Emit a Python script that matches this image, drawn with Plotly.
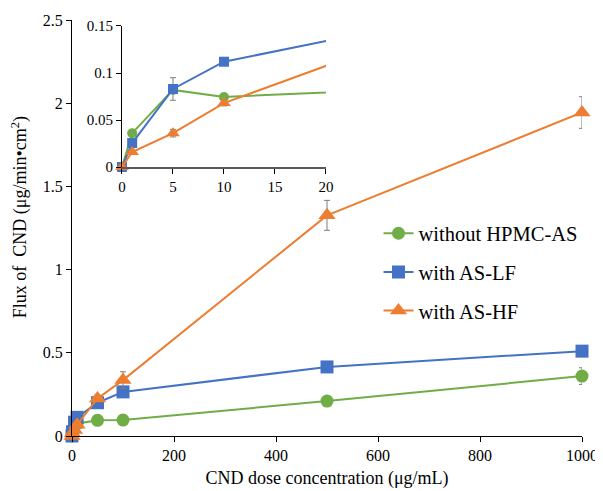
import plotly.graph_objects as go

dose = [0, 1, 5, 10, 50, 100, 500, 1000]

names = ["without HPMC-AS", "with AS-LF", "with AS-HF"]
flux_none = [0, 0.036, 0.082, 0.0745, 0.094, 0.096, 0.21, 0.36]
flux_lf = [0, 0.0255, 0.083, 0.112, 0.20, 0.265, 0.415, 0.51]
flux_hf = [0, 0.016, 0.036, 0.068, 0.226, 0.336, 1.326, 1.944]

err_none = [0, 0.002, 0.003, 0.003, 0.005, 0.005, 0.01, 0.05]
err_lf = [0, 0.002, 0.012, 0.003, 0.01, 0.01, 0.01, 0.01]
err_hf = [0, 0.002, 0.004, 0.003, 0.02, 0.05, 0.09, 0.095]

colors = ["#70AD47", "#4472C4", "#ED7D31"]
symbols = ["circle", "square", "triangle-up"]
main_sizes = [13, 13, 15]
inset_sizes = [10, 10, 12]

series = [flux_none, flux_lf, flux_hf]
errors = [err_none, err_lf, err_hf]

FONT = "'Liberation Serif', 'Times New Roman', Times, serif"
inset_max = 20

fig = go.Figure()

for i in range(3):
    fig.add_trace(go.Scatter(
        x=dose, y=series[i], name=names[i], mode="lines+markers",
        line=dict(color=colors[i], width=2),
        marker=dict(symbol=symbols[i], size=main_sizes[i], color=colors[i]),
        error_y=dict(type="data", array=errors[i], color="#7F7F7F", thickness=1, width=3),
        cliponaxis=False, legendgroup=str(i),
        xaxis="x", yaxis="y",
    ))

for i in range(3):
    fig.add_trace(go.Scatter(
        x=dose, y=series[i], mode="lines", showlegend=False,
        line=dict(color=colors[i], width=2),
        xaxis="x2", yaxis="y2", hoverinfo="skip",
    ))
    xs = [d for d in dose if d <= inset_max]
    ys = [v for d, v in zip(dose, series[i]) if d <= inset_max]
    es = [e for d, e in zip(dose, errors[i]) if d <= inset_max]
    fig.add_trace(go.Scatter(
        x=xs, y=ys, mode="markers", showlegend=False,
        marker=dict(symbol=symbols[i], size=inset_sizes[i], color=colors[i]),
        error_y=dict(type="data", array=es, color="#7F7F7F", thickness=1, width=3),
        cliponaxis=False, xaxis="x2", yaxis="y2",
    ))

axis_common = dict(
    showgrid=False, zeroline=False, showline=True, linecolor="black", linewidth=1,
    ticks="outside", ticklen=5, tickcolor="black", automargin=False,
)

# page body has an 8px margin, so the figure is drawn 8px in from the top-left
fig.update_layout(
    width=595, height=483,
    margin=dict(l=64, r=21, t=12, b=55),
    paper_bgcolor="white", plot_bgcolor="white",
    font=dict(family=FONT, size=16, color="black"),
    xaxis=dict(
        **axis_common, range=[0, 1000], tickvals=[0, 200, 400, 600, 800, 1000],
        title=dict(text="CND dose concentration (μg/mL)", font=dict(size=18), standoff=8),
        tickfont=dict(size=16), domain=[0, 1],
    ),
    yaxis=dict(
        **axis_common, range=[0, 2.5], tickvals=[0, 0.5, 1, 1.5, 2, 2.5],
        tickfont=dict(size=16), domain=[0, 1],
    ),
    xaxis2=dict(
        **{**axis_common, "linecolor": "#595959", "linewidth": 2}, range=[0, 20],
        tickvals=[0, 5, 10, 15, 20], tickfont=dict(size=15),
        domain=[0.098, 0.498], anchor="y2",
    ),
    yaxis2=dict(
        **axis_common, range=[0, 0.15], tickvals=[0, 0.05, 0.1, 0.15],
        tickfont=dict(size=15), domain=[0.6466, 0.9856], anchor="x2",
    ),
    legend=dict(
        x=0.601, y=0.535, xanchor="left", yanchor="top",
        font=dict(size=20.5), bgcolor="rgba(0,0,0,0)",
        traceorder="grouped", tracegroupgap=9, itemwidth=30,
    ),
    annotations=[dict(
        text="Flux of  CND (μg/min•cm<sup>2</sup>)", textangle=-90,
        xref="paper", yref="paper", x=-0.102, y=0.526,
        xanchor="center", yanchor="middle", showarrow=False,
        font=dict(size=18),
    )],
    showlegend=True,
)

fig.write_html("out.html")
